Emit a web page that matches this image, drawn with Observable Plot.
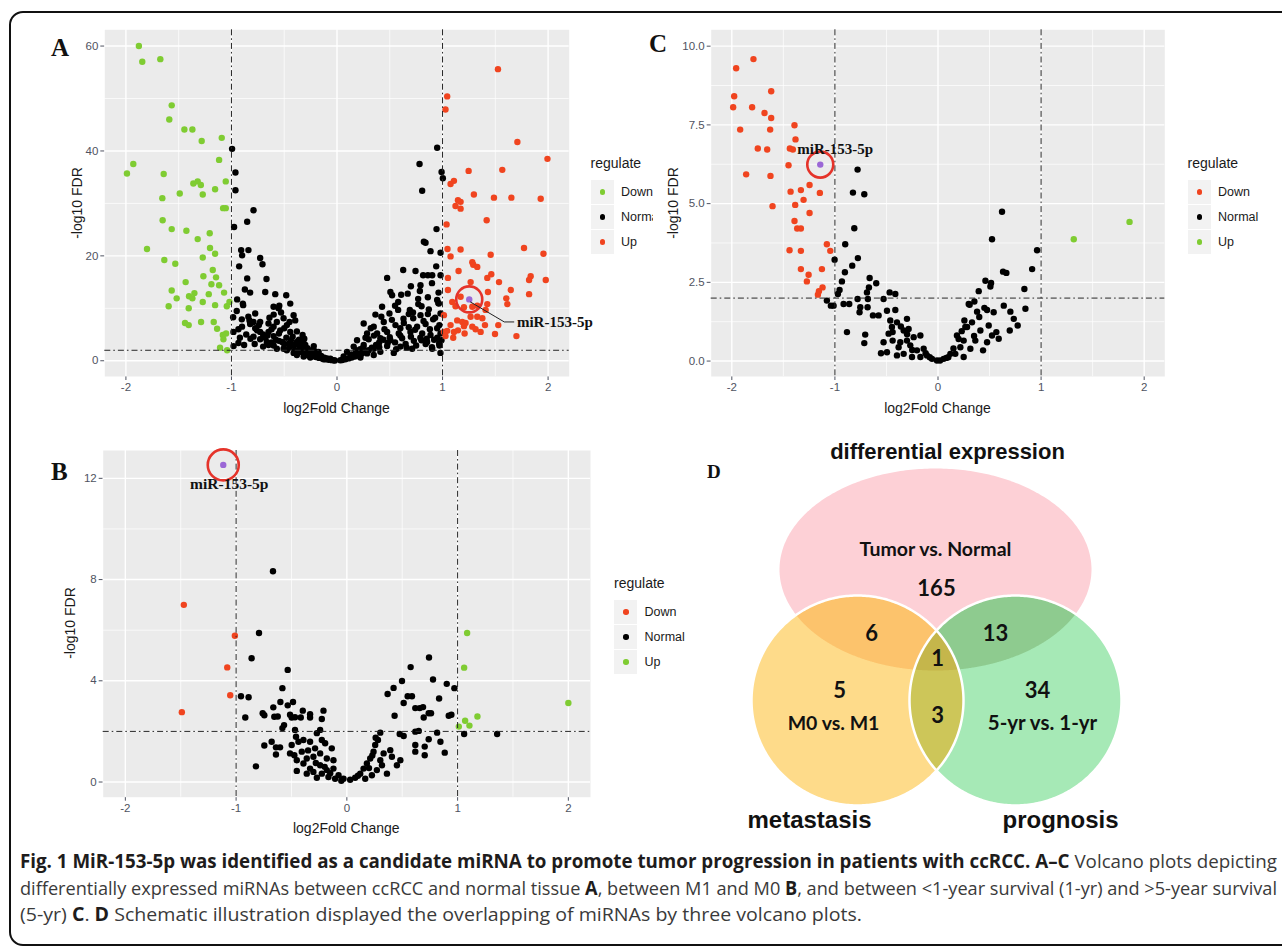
<!DOCTYPE html>
<html>
<head>
<meta charset="utf-8">
<script src="https://cdn.jsdelivr.net/npm/d3@7"></script>
<script src="https://cdn.jsdelivr.net/npm/@observablehq/plot@0.6"></script>
<style>
  html, body { margin: 0; padding: 0; background: #fff; }
  body { width: 1282px; height: 946px; position: relative; overflow: hidden; font-family: 'Liberation Sans', Arial, sans-serif; }
  .abs { position: absolute; }
  .letter { position: absolute; font-family: 'Liberation Serif', 'Times New Roman', serif; font-weight: bold; line-height: 1; color: #111; }
  .axt { position: absolute; font-size: 14px; color: #1a1a1a; white-space: nowrap; line-height: 16px; }
  .legt { position: absolute; font-size: 14px; color: #1a1a1a; line-height: 16px; }
  .key { position: absolute; width: 23px; height: 24px; background: #f2f2f2; }
  .key span { position: absolute; left: 9px; top: 9.5px; width: 5.5px; height: 5.5px; border-radius: 50%; }
  .legl { position: absolute; font-size: 12.5px; color: #1a1a1a; line-height: 14px; white-space: nowrap; }
  .cap { position: absolute; left: 20px; white-space: nowrap; font-family: 'Open Sans', sans-serif; font-size: 19px; line-height: 22px; color: #3a3a3a; transform-origin: 0 50%; }
  .cap b { color: #1e1c1c; font-weight: 700; }
</style>
</head>
<body>
<div id="panelA" class="abs" style="left:20px;top:15px;width:633px;height:400px;"></div>
<div id="panelB" class="abs" style="left:20px;top:435px;width:640px;height:410px;"></div>
<div id="legA"></div>
<div id="panelCwrap" class="abs" style="left:653px;top:13px;width:629px;height:415px;background:#fff;">
  <div id="panelC" class="abs" style="left:0;top:2px;"></div>
</div>
<div id="venn" class="abs" style="left:690px;top:430px;width:592px;height:420px;"></div>
<div id="texts"></div>
<div id="caption"></div>
<div class="abs" style="left:9px;top:11px;width:1300px;height:931px;border:2px solid #111;border-radius:14px;pointer-events:none;"></div>

<script>
// ---------------- DATA ----------------
const regulateLevels = ["Down", "Normal", "Up"];

// Panel A: Tumor vs Normal  (Down = green, Up = red)
const aDown = [[-1.877,60.0],[-1.845,57.0],[-1.674,57.5],[-1.566,48.7],[-1.589,46.0],[-1.446,44.1],[-1.370,44.1],[-1.282,41.9],[-1.092,42.5],[-1.117,38.3],[-1.99,35.7],[-1.93,37.5],[-1.642,35.6],[-1.655,31.0],[-1.49,31.9],[-1.361,33.8],[-1.32,34.2],[-1.29,33.5],[-1.272,31.7],[-1.155,32.7],[-1.054,34.2],[-1.079,29.1],[-1.054,29.1],[-1.652,26.8],[-1.566,25.1],[-1.427,24.8],[-1.32,23.2],[-1.206,24.3],[-1.203,21.5],[-1.155,20.4],[-1.80,21.3],[-1.636,19.2],[-1.532,18.5],[-1.272,19.7],[-1.266,16.1],[-1.177,17.3],[-1.146,15.9],[-1.434,15.0],[-1.19,14.6],[-1.117,14.4],[-1.566,13.4],[-1.519,11.9],[-1.402,12.3],[-1.37,11.9],[-1.351,12.9],[-1.215,12.7],[-1.07,13.0],[-1.272,11.2],[-1.595,10.4],[-1.405,10.0],[-1.155,10.6],[-1.044,10.4],[-1.019,11.2],[-1.44,7.2],[-1.405,6.8],[-1.288,7.4],[-1.168,7.4],[-1.136,6.1],[-1.082,4.9],[-1.051,5.2],[-1.076,4.1],[-1.108,2.5],[-1.041,2.0]];
const aUp = [[1.525,55.6],[1.044,50.4],[1.028,47.9],[1.709,41.7],[1.994,38.5],[1.247,36.2],[1.566,36.4],[1.076,33.7],[1.108,34.3],[1.297,31.7],[1.487,31.1],[1.652,31.1],[1.93,30.9],[1.146,30.6],[1.171,30.3],[1.123,29.5],[1.171,29.0],[1.418,26.8],[1.038,26.0],[1.772,21.5],[1.956,20.4],[1.047,21.3],[1.171,21.2],[1.456,20.2],[1.076,19.9],[1.282,18.8],[1.291,18.3],[1.329,17.9],[1.152,17.1],[1.424,15.8],[1.462,16.5],[1.835,16.1],[1.82,15.4],[1.978,15.4],[1.535,15.0],[1.051,15.8],[1.266,15.0],[1.051,13.5],[1.43,13.1],[1.646,13.5],[1.82,12.7],[1.604,11.9],[1.614,10.8],[1.171,12.2],[1.092,11.2],[1.123,10.4],[1.203,10.2],[1.282,10.3],[1.329,10.5],[1.424,10.8],[1.408,9.7],[1.013,8.7],[1.139,7.7],[1.187,7.4],[1.218,7.2],[1.266,8.4],[1.329,8.4],[1.377,8.1],[1.076,6.8],[1.203,6.6],[1.282,6.5],[1.313,6.0],[1.361,5.5],[1.402,6.8],[1.013,5.5],[1.044,5.7],[1.108,5.5],[1.146,5.8],[1.028,4.7],[1.101,4.4],[1.209,5.2],[1.497,5.1],[1.7,4.7],[1.528,6.8]];
const aNormal = [[-0.994,40.4],[-0.962,35.9],[-0.962,32.5],[-0.791,28.7],[-0.975,25.5],[-0.851,26.5],[-0.908,21.1],[-0.899,20.1],[-0.839,21.1],[-0.728,19.6],[-0.706,18.4],[-0.927,18.0],[-0.851,15.7],[-0.668,15.6],[-0.873,13.6],[-0.823,13.0],[-0.68,13.1],[-0.585,12.7],[-0.481,12.5],[-0.946,11.7],[-0.892,10.9],[-0.889,10.6],[-0.443,10.9],[-0.601,10.3],[-0.547,10.5],[-0.554,10.0],[-0.775,9.0],[-0.411,8.7],[-0.984,8.3],[-0.902,7.9],[-0.829,7.7],[-0.791,7.4],[-0.728,7.4],[-0.649,7.1],[-0.57,7.4],[-0.506,8.1],[-0.396,7.7],[-0.981,5.5],[-0.934,6.0],[-0.823,7.0],[-0.775,6.2],[-0.728,5.5],[-0.649,5.5],[-0.601,6.5],[-0.538,5.8],[-0.475,6.8],[-0.443,5.5],[-0.326,4.9],[-0.934,3.4],[-0.791,4.6],[-0.728,4.1],[-0.665,3.6],[-0.601,4.7],[-0.57,2.3],[-0.506,2.3],[-0.437,3.9],[-0.38,3.6],[-0.316,3.3],[-0.649,3.0],[-0.475,2.0],[-0.411,1.5],[-0.348,2.3],[-0.285,2.0],[-0.22,2.8],[-0.253,1.5],[-0.19,1.4],[-0.316,0.8],[-0.22,0.9],[-0.158,0.8],[-0.095,0.4],[-0.032,0.1],[0.032,0.1],[-0.127,0.3],[-0.253,0.6],[-0.38,1.1],[-0.427,3.0],[-0.285,1.4],[-0.174,1.7],[-0.063,0.4],
[-0.45,2.6],[-0.4,2.0],[-0.37,1.8],[-0.33,1.6],[-0.3,1.2],[-0.27,1.0],[-0.24,0.9],[-0.2,0.7],[-0.17,0.55],[-0.14,0.45],[-0.11,0.3],[-0.08,0.2],[-0.05,0.12],[-0.02,0.05],[-0.5,3.2],[-0.55,3.8],[-0.6,2.9],[-0.62,3.5],[-0.68,4.4],[-0.7,2.7],[-0.35,2.7],[-0.3,2.3],[-0.26,1.8],[-0.22,1.4],[-0.19,1.1],[-0.15,0.9],[-0.12,0.6],[-0.09,0.4],
[-0.95,9.5],[-0.9,6.5],[-0.86,5.0],[-0.82,4.2],[-0.78,3.2],[-0.74,6.8],[-0.7,5.0],[-0.66,4.8],[-0.62,6.0],[-0.58,4.0],[-0.55,5.2],[-0.52,3.6],[-0.48,4.4],[-0.46,3.2],[-0.42,4.6],[-0.4,3.0],[-0.36,4.0],[-0.33,2.6],[-0.3,3.0],[-0.28,2.4],[-0.24,2.0],[-0.21,1.8],[-0.18,1.2],[-0.98,2.8],[-0.92,4.4],[-0.88,3.0],[-0.84,8.4],[-0.76,5.8],[-0.64,8.2],[-0.6,8.8],[-0.53,9.2],[-0.5,6.2],[-0.45,7.4],[-0.38,5.6],[-0.35,3.4],[-0.31,4.2],
[0.949,40.6],[0.782,37.5],[0.991,36.0],[1.003,34.8],[0.807,32.4],[0.943,25.1],[0.823,22.7],[0.839,22.5],[0.886,20.9],[0.981,20.6],[0.627,17.3],[0.475,15.8],[0.744,17.1],[0.816,16.3],[0.861,16.3],[0.902,16.3],[0.981,16.3],[0.791,14.4],[0.785,13.3],[0.506,13.1],[0.522,12.5],[0.608,12.6],[0.769,11.8],[0.861,12.1],[0.962,13.0],[0.949,11.6],[0.427,10.3],[0.579,9.7],[0.69,9.7],[0.801,10.4],[0.965,10.9],[0.364,8.8],[0.497,9.0],[0.68,8.9],[0.722,8.1],[0.791,8.7],[0.861,8.9],[0.911,7.9],[0.981,9.0],[0.253,7.1],[0.348,6.5],[0.443,7.4],[0.554,6.8],[0.633,7.2],[0.759,6.5],[0.839,7.0],[0.949,6.2],[0.981,5.2],[0.285,5.2],[0.38,5.2],[0.475,5.5],[0.585,5.2],[0.696,5.5],[0.807,5.2],[0.886,4.9],[0.19,3.9],[0.3,4.1],[0.411,4.3],[0.506,3.9],[0.617,4.3],[0.728,3.8],[0.854,3.6],[0.968,3.3],[0.158,2.7],[0.253,3.0],[0.348,2.3],[0.475,2.8],[0.601,2.7],[0.712,2.3],[0.902,2.3],[0.095,1.7],[0.19,1.5],[0.285,1.4],[0.411,1.7],[0.538,1.5],[0.063,0.8],[0.127,0.9],[0.222,0.6],[0.348,1.1],
[0.05,0.15],[0.08,0.3],[0.11,0.45],[0.14,0.6],[0.17,0.8],[0.2,1.0],[0.23,1.3],[0.26,1.6],[0.3,2.0],[0.33,2.5],[0.37,3.0],[0.4,3.5],[0.44,4.0],[0.5,4.5],[0.55,3.5],[0.6,4.8],[0.65,3.2],[0.7,4.6],[0.75,2.9],[0.8,3.9],[0.85,4.2],[0.9,2.6],[0.95,4.4],[0.98,1.5],[0.97,2.9],
[0.35,4.8],[0.4,2.6],[0.45,6.0],[0.48,3.4],[0.52,7.8],[0.56,2.2],[0.6,6.2],[0.63,8.0],[0.66,2.5],[0.68,6.4],[0.72,9.2],[0.74,5.9],[0.77,10.8],[0.79,4.4],[0.82,7.6],[0.84,3.2],[0.87,9.8],[0.88,6.0],[0.92,4.0],[0.93,8.2],[0.96,11.0],[0.97,6.8],[0.99,3.9],[0.58,11.2],[0.67,12.8],[0.7,14.2],[0.9,14.8],[0.94,18.0],[0.55,10.5],[0.42,8.4],[0.32,6.2],[0.27,4.4],[0.22,2.2],[0.18,2.0],[0.14,1.2],[0.25,2.6]];
const aHighlight = {x: 1.253, y: 11.7, label: "miR-153-5p"};
const aLeader = [{x: 1.265, y: 11.2}, {x: 1.585, y: 7.4}, {x: 1.675, y: 7.4}];
const aLabelPos = {x: 1.705, y: 7.4};

// Panel B: M0 vs M1 (Down = red, Up = green)
const bDown = [[-1.472,7.0],[-1.011,5.78],[-1.08,4.53],[-1.053,3.43],[-1.49,2.76]];
const bUp = [[1.086,5.89],[1.059,4.52],[2.0,3.12],[1.179,2.59],[1.068,2.42],[1.107,2.23],[1.011,2.19]];
const bNormal = [[-0.667,8.33],[-0.793,5.89],[-0.86,4.89],[-0.534,4.43],[-0.582,3.71],[-0.956,3.39],[-0.887,3.35],[-0.6,3.16],[-0.486,3.16],[-0.664,2.95],[-0.534,3.03],[-0.398,2.82],[-0.332,2.68],[-0.211,2.82],[-0.76,2.72],[-0.745,2.64],[-0.917,2.55],[-0.655,2.58],[-0.624,2.59],[-0.513,2.66],[-0.498,2.55],[-0.468,2.56],[-0.416,2.55],[-0.332,2.55],[-0.226,2.49],[-0.567,2.25],[-0.582,2.13],[-0.271,1.93],[-0.745,1.44],[-0.679,1.59],[-0.64,1.37],[-0.603,1.37],[-0.64,1.09],[-0.821,0.62],[-0.459,1.79],[-0.437,1.59],[-0.498,1.46],[-0.474,1.06],[-0.452,0.44],[-0.392,1.66],[-0.332,1.59],[-0.287,1.33],[-0.226,1.66],[-0.196,1.53],[-0.136,1.33],[-0.407,1.20],[-0.362,0.93],[-0.302,1.00],[-0.241,1.13],[-0.181,0.93],[-0.121,0.86],[-0.392,0.73],[-0.332,0.53],[-0.271,0.17],[-0.241,0.66],[-0.181,0.47],[-0.121,0.53],[-0.075,0.27],[-0.03,0.13],[-0.362,0.33],[-0.302,0.40],[-0.226,0.33],[-0.166,0.20],[-0.106,0.13],[-0.452,0.86],[-0.513,1.13],[-0.468,2.06],[-0.241,2.06],[-0.35,1.25],[-0.28,0.75],[-0.2,0.6],[-0.15,0.35],[-0.05,0.05],
[0.742,4.92],[0.576,4.54],[0.498,3.99],[0.778,4.05],[0.422,3.72],[0.368,3.48],[0.902,3.88],[0.971,3.71],[0.513,3.12],[0.549,3.39],[0.588,3.39],[0.833,3.30],[0.618,2.92],[0.658,2.92],[0.688,2.96],[0.739,2.72],[0.76,2.72],[0.694,2.55],[0.92,2.62],[0.944,2.66],[0.431,2.62],[0.618,1.99],[0.649,2.02],[0.815,1.95],[0.845,1.59],[0.884,1.16],[0.618,1.46],[0.618,1.20],[0.703,1.40],[0.703,1.06],[0.739,1.69],[0.477,1.90],[0.513,1.82],[1.357,1.90],[1.059,1.90],[0.302,1.95],[0.281,1.66],[0.256,1.46],[0.241,1.20],[0.211,0.93],[0.392,1.26],[0.407,1.00],[0.483,0.86],[0.452,0.66],[0.332,1.13],[0.302,0.86],[0.181,0.73],[0.151,0.53],[0.121,0.33],[0.075,0.17],[0.03,0.09],[0.271,0.47],[0.362,0.33],[0.226,0.27],[0.317,0.66],[0.166,0.13],[0.26,1.75],[0.23,1.05],[0.2,0.55],[0.1,0.25]];
const bHighlight = {x: -1.116, y: 12.53, label: "miR-153-5p"};
const bLabelPos = {x: -1.062, y: 11.76};

// Panel C: 5-yr vs 1-yr (Down = red, Up = green)
const cDown = [[-1.79,9.59],[-1.958,9.30],[-1.977,8.41],[-1.987,8.06],[-1.618,8.57],[-1.803,8.06],[-1.683,7.88],[-1.618,7.72],[-1.919,7.35],[-1.628,7.35],[-1.392,7.49],[-1.382,7.04],[-1.748,6.75],[-1.657,6.72],[-1.437,6.75],[-1.408,6.72],[-1.45,6.22],[-1.861,5.93],[-1.625,5.88],[-1.246,5.59],[-1.43,5.38],[-1.33,5.43],[-1.146,5.34],[-1.304,5.12],[-1.605,4.92],[-1.385,4.96],[-1.246,4.70],[-1.392,4.45],[-1.366,4.21],[-1.33,4.21],[-1.078,3.71],[-1.045,3.50],[-1.44,3.52],[-1.33,3.50],[-1.33,2.92],[-1.126,2.92],[-1.255,2.74],[-1.272,2.53],[-1.12,2.34],[-1.155,2.22],[-1.165,2.11]];
const cUp = [[1.317,3.87],[1.858,4.42]];
const cNormal = [[-0.78,6.08],[-0.825,5.35],[-0.715,5.30],[-0.812,4.22],[-0.9,3.71],[-0.777,3.27],[-1.003,3.22],[-0.832,3.03],[-0.903,2.82],[-0.955,2.26],[-0.932,2.53],[-0.663,2.64],[-0.599,2.47],[-0.67,2.34],[-0.689,2.18],[-0.971,2.13],[-1.078,1.92],[-1.039,1.76],[-1.013,1.76],[-0.916,1.81],[-0.861,1.81],[-0.78,1.97],[-0.68,1.97],[-0.754,1.71],[-0.683,1.71],[-0.528,1.97],[-0.469,2.18],[-0.414,2.13],[-0.761,1.55],[-0.631,1.45],[-0.576,1.45],[-0.495,1.60],[-0.414,1.62],[-0.883,0.92],[-0.715,0.57],[-0.706,0.84],[-0.553,0.25],[-0.495,0.28],[-0.528,0.60],[-0.463,1.29],[-0.398,1.23],[-0.44,0.92],[-0.333,0.97],[-0.366,0.60],[-0.301,1.34],[-0.285,1.02],[-0.236,0.76],[-0.171,0.81],[-0.269,0.50],[-0.333,0.23],[-0.204,0.34],[-0.139,0.39],[-0.107,0.18],[-0.058,0.07],[-0.01,0.02],[-0.479,0.87],[-0.44,0.65],[-0.382,0.44],[-0.301,0.65],[-0.398,0.18],[-0.252,0.13],[-0.171,0.13],[-0.447,1.08],[-0.36,1.1],[-0.25,0.35],[-0.12,0.25],[-0.08,0.12],[-0.3,0.85],
[0.621,4.74],[0.524,3.87],[0.961,3.52],[0.913,2.92],[0.631,2.84],[0.663,2.80],[0.46,2.55],[0.515,2.48],[0.508,2.37],[0.838,2.29],[0.395,2.22],[0.307,1.79],[0.353,1.89],[0.45,1.69],[0.476,1.62],[0.379,1.57],[0.54,1.55],[0.638,1.76],[0.702,1.57],[0.848,1.66],[0.735,1.34],[0.773,1.13],[0.696,0.97],[0.256,1.29],[0.282,1.08],[0.33,1.23],[0.411,0.97],[0.492,1.13],[0.524,0.81],[0.566,0.92],[0.589,0.71],[0.476,0.60],[0.437,0.34],[0.362,0.65],[0.314,0.39],[0.249,0.13],[0.184,0.81],[0.265,1.08],[0.298,1.81],[0.217,0.44],[0.12,0.23],[0.055,0.07],[0.168,0.23],[0.249,0.65],[0.1,0.12],[0.15,0.4],[0.2,0.7],[0.23,0.95],[0.02,0.02],[0.08,0.1],[0.35,0.8],[0.4,1.4]];
const cHighlight = {x: -1.142, y: 6.24, label: "miR-153-5p"};
const cLabelPos = {x: -0.997, y: 6.72};

// Panel D: Venn counts
const vennSetNames = ["differential expression", "metastasis", "prognosis"];
const vennComparisons = ["Tumor vs. Normal", "M0 vs. M1", "5-yr vs. 1-yr"];
const vennCounts = {DE: 165, M: 5, P: 34, DE_M: 6, DE_P: 13, M_P: 3, DE_M_P: 1};

// ---------------- HELPERS ----------------
const toRows = (arr, reg) => arr.map(([x, y]) => ({x, y, regulate: reg}));
const GREEN = "#7fcc32", RED = "#f0441f", BLACK = "#000000", PURPLE = "#9b67d6", RING = "#e5332a";

function volcano(el, cfg) {
  const {rows, hl, width, height, m, yDomain, yTicks, yMinor, yFmt, colors, extra} = cfg;
  const xTicks = [-2, -1, 0, 1, 2], xMinor = [-1.5, -0.5, 0.5, 1.5];
  const dash = {stroke: "#262626", strokeWidth: 1, strokeDasharray: "6,3,1.6,3"};
  const svg = Plot.plot({
    width, height,
    marginLeft: m[0], marginRight: m[1], marginTop: m[2], marginBottom: m[3],
    style: {background: "transparent", fontFamily: "'Liberation Sans', Arial, sans-serif", fontSize: "11.5px", color: "#4f5361", overflow: "visible"},
    x: {domain: [-2.2, 2.2], ticks: xTicks, tickSize: 4, tickPadding: 2.5, label: null, tickFormat: d => String(d)},
    y: {domain: yDomain, ticks: yTicks, tickSize: 4, tickPadding: 2.5, label: null, tickFormat: yFmt},
    color: {domain: regulateLevels, range: colors},
    marks: [
      Plot.frame({fill: "#ebebeb", stroke: null}),
      Plot.ruleX(xMinor, {stroke: "#fff", strokeWidth: 0.7}),
      Plot.ruleY(yMinor, {stroke: "#fff", strokeWidth: 0.7}),
      Plot.ruleX(xTicks, {stroke: "#fff", strokeWidth: 1.4}),
      Plot.ruleY(yTicks, {stroke: "#fff", strokeWidth: 1.4}),
      Plot.dot(rows, {x: "x", y: "y", fill: "regulate", r: 3.2}),
      Plot.ruleX([-1, 1], dash),
      Plot.ruleY([2], dash),
      Plot.dot([hl], {x: "x", y: "y", fill: PURPLE, r: 3.2}),
      Plot.dot([hl], {x: "x", y: "y", r: cfg.ringR, stroke: RING, strokeWidth: 2.6, fill: "none"}),
      ...(extra || [])
    ]
  });
  document.getElementById(el).appendChild(svg);
}

function legend(hostId, left, titleCy, colors) {
  const host = document.getElementById(hostId);
  const t = document.createElement("div");
  t.className = "legt"; t.textContent = "regulate";
  t.style.left = left + "px"; t.style.top = (titleCy - 8) + "px";
  host.appendChild(t);
  regulateLevels.forEach((lab, i) => {
    const cy = titleCy + 28.7 + i * 25;
    const k = document.createElement("div");
    k.className = "key"; k.style.left = left + "px"; k.style.top = (cy - 12) + "px";
    const s = document.createElement("span"); s.style.background = colors[i];
    k.appendChild(s); host.appendChild(k);
    const l = document.createElement("div");
    l.className = "legl"; l.textContent = lab;
    l.style.left = (left + 30.5) + "px"; l.style.top = (cy - 7) + "px";
    host.appendChild(l);
  });
}
function addText(cls, txt, style) {
  const d = document.createElement("div");
  d.className = cls; d.textContent = txt;
  Object.assign(d.style, style);
  document.getElementById("texts").appendChild(d);
  return d;
}

const serifLabel = {fontFamily: "'Liberation Serif', 'Times New Roman', serif", fontWeight: "bold", fontSize: 15, fill: "#111"};

// ---------------- PANEL A ----------------
volcano("panelA", {
  rows: [...toRows(aDown, "Down"), ...toRows(aNormal, "Normal"), ...toRows(aUp, "Up")],
  hl: aHighlight, ringR: 13,
  width: 633, height: 400, m: [84.3, 84.3, 14.3, 39],
  yDomain: [-3, 63.1], yTicks: [0, 20, 40, 60], yMinor: [10, 30, 50], yFmt: d => String(d),
  colors: [GREEN, BLACK, RED],
  extra: [
    Plot.line(aLeader, {x: "x", y: "y", stroke: "#222", strokeWidth: 1}),
    Plot.text([aLabelPos], {x: "x", y: "y", text: () => aHighlight.label, textAnchor: "start", ...serifLabel})
  ]
});
legend("legA", 590.5, 163, [GREEN, BLACK, RED]);

// ---------------- PANEL B ----------------
volcano("panelB", {
  rows: [...toRows(bDown, "Down"), ...toRows(bNormal, "Normal"), ...toRows(bUp, "Up")],
  hl: bHighlight, ringR: 15.5,
  width: 640, height: 410, m: [82.7, 70, 15, 48.3],
  yDomain: [-0.6, 13.1], yTicks: [0, 4, 8, 12], yMinor: [2, 6, 10], yFmt: d => String(d),
  colors: [RED, BLACK, GREEN],
  extra: [
    Plot.text([bLabelPos], {x: "x", y: "y", text: () => bHighlight.label, textAnchor: "middle", ...serifLabel, fontSize: 15.5})
  ]
});
legend("texts", 614, 583, [RED, BLACK, GREEN]);

// ---------------- PANEL C ----------------
volcano("panelC", {
  rows: [...toRows(cDown, "Down"), ...toRows(cNormal, "Normal"), ...toRows(cUp, "Up")],
  hl: cHighlight, ringR: 13,
  width: 629, height: 400, m: [57.7, 117.7, 14.3, 39],
  yDomain: [-0.49, 10.52], yTicks: [0, 2.5, 5, 7.5, 10], yMinor: [1.25, 3.75, 6.25, 8.75], yFmt: d3.format(".1f"),
  colors: [RED, BLACK, GREEN],
  extra: [
    Plot.text([cLabelPos], {x: "x", y: "y", text: () => cHighlight.label, textAnchor: "middle", ...serifLabel})
  ]
});
legend("texts", 1187.5, 163, [RED, BLACK, GREEN]);

// axis titles & panel letters
addText("axt", "log2Fold Change", {left: "336.5px", top: "400px", transform: "translateX(-50%)"});
addText("axt", "log2Fold Change", {left: "937.5px", top: "400px", transform: "translateX(-50%)"});
addText("axt", "log2Fold Change", {left: "346.3px", top: "820px", transform: "translateX(-50%)"});
addText("axt", "-log10 FDR", {left: "77px", top: "202.5px", transform: "translate(-50%,-50%) rotate(-90deg)"});
addText("axt", "-log10 FDR", {left: "673px", top: "202.5px", transform: "translate(-50%,-50%) rotate(-90deg)"});
addText("axt", "-log10 FDR", {left: "70px", top: "623px", transform: "translate(-50%,-50%) rotate(-90deg)"});
addText("letter", "A", {left: "51px", top: "35px", fontSize: "25px"});
addText("letter", "B", {left: "51px", top: "459px", fontSize: "25px"});
addText("letter", "C", {left: "649px", top: "31px", fontSize: "25px"});
addText("letter", "D", {left: "707px", top: "462px", fontSize: "19px"});

// ---------------- PANEL D (Venn) ----------------
const vennShapes = [
  {key: "DE", cx: 245, cy: 139, rx: 156, ry: 101, fill: "#fdd0d6"},
  {key: "M", cx: 167, cy: 270, rx: 106, ry: 105, fill: "#fedb8a"},
  {key: "P", cx: 325, cy: 270, rx: 106, ry: 105, fill: "#a6e9b6"}
];
function ellipsePts(e, n) {
  return d3.range(n).map(i => { const t = 2 * Math.PI * i / n; return {x: e.cx + e.rx * Math.cos(t), y: e.cy + e.ry * Math.sin(t)}; });
}
function inside(e, p) { const dx = (p.x - e.cx) / e.rx, dy = (p.y - e.cy) / e.ry; return dx * dx + dy * dy <= 1 + 1e-9; }
function intersection(shapes) {
  const pts = [];
  shapes.forEach((s, i) => ellipsePts(s, 1440).forEach(p => { if (shapes.every((o, j) => j === i || inside(o, p))) pts.push(p); }));
  const cx = d3.mean(pts, p => p.x), cy = d3.mean(pts, p => p.y);
  pts.sort((a, b) => Math.atan2(a.y - cy, a.x - cx) - Math.atan2(b.y - cy, b.x - cx));
  return pts;
}
const [sDE, sM, sP] = vennShapes;
const regions = [
  {pts: intersection([sDE, sM]), fill: "#fcc36c"},
  {pts: intersection([sDE, sP]), fill: "#8ecb8f"},
  {pts: intersection([sM, sP]), fill: "#cdc659"},
  {pts: intersection([sDE, sM, sP]), fill: "#c5b64b"}
];
const vennLabels = [
  {x: 257, y: 21, text: vennSetNames[0], size: 22, fam: "'Liberation Sans', Arial, sans-serif"},
  {x: 119, y: 390, text: vennSetNames[1], size: 24, fam: "'Liberation Sans', Arial, sans-serif"},
  {x: 370, y: 390, text: vennSetNames[2], size: 24, fam: "'Liberation Sans', Arial, sans-serif"},
  {x: 245, y: 119, text: vennComparisons[0], size: 19.5, fam: "Lato, 'Open Sans', sans-serif"},
  {x: 143, y: 293, text: vennComparisons[1], size: 19.5, fam: "Lato, 'Open Sans', sans-serif"},
  {x: 352, y: 293, text: vennComparisons[2], size: 20.5, fam: "Lato, 'Open Sans', sans-serif"},
  {x: 246, y: 158, text: String(vennCounts.DE), size: 22, fam: "Lato, 'Open Sans', sans-serif"},
  {x: 149, y: 260, text: String(vennCounts.M), size: 22, fam: "Lato, 'Open Sans', sans-serif"},
  {x: 347, y: 260, text: String(vennCounts.P), size: 22, fam: "Lato, 'Open Sans', sans-serif"},
  {x: 181, y: 203, text: String(vennCounts.DE_M), size: 22, fam: "Lato, 'Open Sans', sans-serif"},
  {x: 305, y: 203, text: String(vennCounts.DE_P), size: 22, fam: "Lato, 'Open Sans', sans-serif"},
  {x: 247, y: 285, text: String(vennCounts.M_P), size: 22, fam: "Lato, 'Open Sans', sans-serif"},
  {x: 247, y: 228, text: String(vennCounts.DE_M_P), size: 22, fam: "Lato, 'Open Sans', sans-serif"}
];
const vennSvg = Plot.plot({
  width: 592, height: 420, margin: 0, axis: null,
  x: {type: "identity"}, y: {type: "identity"},
  style: {background: "transparent", overflow: "visible"},
  marks: [
    ...vennShapes.map(s => Plot.line(ellipsePts(s, 360), {x: "x", y: "y", curve: "linear-closed", fill: s.fill, stroke: "none"})),
    ...regions.map(r => Plot.line(r.pts, {x: "x", y: "y", curve: "linear-closed", fill: r.fill, stroke: "none"})),
    ...[sM, sP].map(s => Plot.line(ellipsePts(s, 360), {x: "x", y: "y", curve: "linear-closed", fill: "none", stroke: "#fff", strokeWidth: 2.5})),
    ...vennLabels.map(l => Plot.text([l], {x: "x", y: "y", text: "text", fontSize: l.size, fontWeight: "bold", fontFamily: l.fam, fill: "#111"}))
  ]
});
document.getElementById("venn").appendChild(vennSvg);

// ---------------- CAPTION ----------------
const captionLines = [
  '<b>Fig. 1 MiR-153-5p was identified as a candidate miRNA to promote tumor progression in patients with ccRCC. A–C</b> Volcano plots depicting',
  'differentially expressed miRNAs between ccRCC and normal tissue <b>A</b>, between M1 and M0 <b>B</b>, and between &lt;1-year survival (1-yr) and &gt;5-year survival',
  '(5-yr) <b>C</b>. <b>D</b> Schematic illustration displayed the overlapping of miRNAs by three volcano plots.'
];
const capTops = [850, 877, 903];
const capWidths = [1257, 1257, 842];
const capEls = captionLines.map((html, i) => {
  const d = document.createElement("div");
  d.className = "cap"; d.innerHTML = html; d.style.top = capTops[i] + "px";
  document.getElementById("caption").appendChild(d);
  return d;
});
function fitCaption() {
  capEls.forEach(e => e.style.transform = "none");
  const ws = capEls.map(e => e.getBoundingClientRect().width);
  capEls.forEach((e, i) => e.style.transform = `scaleX(${capWidths[i] / ws[i]})`);
}
fitCaption();
if (document.fonts && document.fonts.ready) document.fonts.ready.then(fitCaption);
</script>
</body>
</html>
